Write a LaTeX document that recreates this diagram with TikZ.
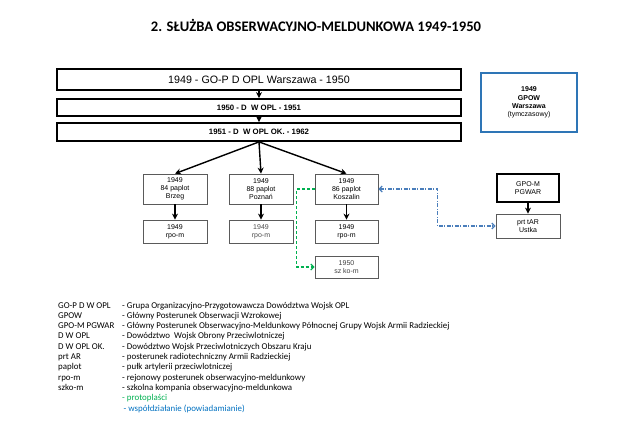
\documentclass[tikz,border=0pt]{standalone}
\usepackage{fontspec}
\setmainfont{Liberation Sans}
\newfontfamily\calfont{Carlito}
\usetikzlibrary{arrows.meta}
\definecolor{boxgray}{RGB}{90,90,90}
\definecolor{gpowblue}{RGB}{46,117,182}
\definecolor{legreen}{RGB}{0,176,80}
\definecolor{leblue}{RGB}{0,112,192}
\definecolor{linkblue}{RGB}{74,126,187}
\definecolor{linkgreen}{RGB}{0,176,80}
\tikzset{
  bigbox/.style={draw=black,line width=1.8pt,inner sep=0pt,align=center},
  smallbox/.style={draw=boxgray,line width=0.8pt,inner sep=0pt,align=center,font=\fontsize{7}{8.2}\selectfont,minimum width=63pt},
  thickbox/.style={draw=black,line width=1.6pt,inner sep=0pt,align=center,font=\fontsize{7}{8.2}\selectfont},
  blackarrow/.style={draw=black,line width=1.4pt,-{Stealth[length=6pt,width=6pt]}},
  protolink/.style={draw=linkgreen,line width=1.2pt,dash pattern=on 3pt off 2pt,-{Straight Barb[length=3pt,width=6pt]}},
  cooplink/.style={draw=linkblue,line width=1.2pt,dash pattern=on 4pt off 1.5pt on 1pt off 1.5pt,{Straight Barb[length=3pt,width=6pt]}-{Straight Barb[length=3pt,width=6pt]}},
  legkey/.style={anchor=base west,inner sep=0pt,font=\calfont\fontsize{8.9}{10}\selectfont},
}
\begin{document}
\begin{tikzpicture}[x=1pt,y=-1pt]
\useasboundingbox (0,0) rectangle (640,424);
\node[inner sep=0pt,font=\calfont\bfseries\fontsize{14.6}{16}\selectfont] (title) at (316,25) {2. SŁUŻBA OBSERWACYJNO-MELDUNKOWA 1949-1950};

\node[bigbox,minimum width=404pt,minimum height=21pt,font=\fontsize{10.7}{13}\selectfont] (b1) at (259,79.5) {1949 - GO-P D OPL Warszawa - 1950};
\node[bigbox,minimum width=404pt,minimum height=17pt,font=\bfseries\fontsize{7.8}{9}\selectfont] (b2) at (259,107.5) {1950 - D\ \ W OPL - 1951};
\node[bigbox,minimum width=404pt,minimum height=18pt,font=\bfseries\fontsize{7.8}{9}\selectfont] (b3) at (259,132) {1951 - D\ \ W OPL OK. - 1962};

\node[draw=gpowblue,line width=1.4pt,minimum width=96pt,minimum height=59pt,inner sep=0pt,align=center,font=\fontsize{7}{8.2}\selectfont] (gpow) at (529,102.5) {\textbf{1949}\\\textbf{GPOW}\\\textbf{Warszawa}\\(tymczasowy)};

\node[smallbox,minimum width=64pt,minimum height=30pt] (brzeg) at (175,189) {1949\\84 paplot\\Brzeg};
\node[smallbox,minimum width=64pt,minimum height=30pt] (poznan) at (261,189) {1949\\88 paplot\\Poznań};
\node[smallbox,minimum width=63pt,minimum height=30pt] (kosz) at (346.5,189) {1949\\86 paplot\\Koszalin};

\node[smallbox,minimum width=64pt,minimum height=23pt] (r1) at (175,231.5) {1949\\rpo-m};
\node[smallbox,minimum width=64pt,minimum height=23pt,text=black!70] (r2) at (261,231.5) {1949\\rpo-m};
\node[smallbox,minimum width=63pt,minimum height=23pt] (r3) at (346.5,231.5) {1949\\rpo-m};
\node[smallbox,minimum width=63pt,minimum height=22pt,text=black!75] (szk) at (346.5,267) {1950\\sz ko-m};

\node[thickbox,minimum width=62pt,minimum height=28pt] (gpom) at (528,188) {GPO-M\\PGWAR};
\node[smallbox,minimum width=64pt,minimum height=24pt] (prt) at (528,226) {prt tAR\\Ustka};

\draw[blackarrow] (b1) -- (b2);
\draw[blackarrow] (b2) -- (b3);
\draw[blackarrow] (b3.south) -- (brzeg.north);
\draw[blackarrow] (b3.south) -- (poznan.north);
\draw[blackarrow] (b3.south) -- (kosz.north);
\draw[blackarrow] (brzeg) -- (r1);
\draw[blackarrow] (poznan) -- (r2);
\draw[blackarrow] (kosz) -- (r3);
\draw[blackarrow] (gpom) -- (prt);

\draw[protolink] (kosz.west) -- ++(-18,0) |- (szk.west);
\draw[cooplink] (kosz.east) -- ++(59,0) |- (prt.west);

\node[legkey] (k1) at (58,308) {GO-P D W OPL};
\node[legkey] (d1) at (122,308) {- Grupa Organizacyjno-Przygotowawcza Dowództwa Wojsk OPL};
\node[legkey] (k2) at (58,318.3) {GPOW};
\node[legkey] (d2) at (122,318.3) {- Główny Posterunek Obserwacji Wzrokowej};
\node[legkey] (k3) at (58,328.6) {GPO-M PGWAR};
\node[legkey] (d3) at (122,328.6) {- Główny Posterunek Obserwacyjno-Meldunkowy Północnej Grupy Wojsk Armii Radzieckiej};
\node[legkey] (k4) at (58,338.9) {D W OPL};
\node[legkey] (d4) at (122,338.9) {- Dowództwo\ \ Wojsk Obrony Przeciwlotniczej};
\node[legkey] (k5) at (58,349.2) {D W OPL OK.};
\node[legkey] (d5) at (122,349.2) {- Dowództwo Wojsk Przeciwlotniczych Obszaru Kraju};
\node[legkey] (k6) at (58,359.5) {prt AR};
\node[legkey] (d6) at (122,359.5) {- posterunek radiotechniczny Armii Radzieckiej};
\node[legkey] (k7) at (58,369.8) {paplot};
\node[legkey] (d7) at (122,369.8) {- pułk artylerii przeciwlotniczej};
\node[legkey] (k8) at (58,380.1) {rpo-m};
\node[legkey] (d8) at (122,380.1) {- rejonowy posterunek obserwacyjno-meldunkowy};
\node[legkey] (k9) at (58,390.4) {szko-m};
\node[legkey] (d9) at (122,390.4) {- szkolna kompania obserwacyjno-meldunkowa};
\node[legkey,text=legreen] (d10) at (122,400.7) {- protoplaści};
\node[legkey,text=leblue] (d11) at (123.5,411) {- współdziałanie (powiadamianie)};
\end{tikzpicture}
\end{document}
